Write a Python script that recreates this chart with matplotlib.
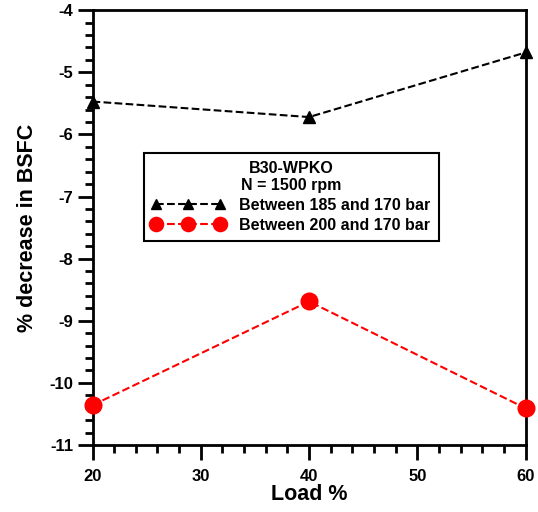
import matplotlib
matplotlib.use('Agg')
import matplotlib.pyplot as plt
from matplotlib.ticker import MultipleLocator

load = [20, 40, 60]
bsfc_185 = [-5.47, -5.72, -4.68]
bsfc_200 = [-10.36, -8.69, -10.41]

plt.rcParams['font.family'] = ['Liberation Sans', 'DejaVu Sans']
plt.rcParams['font.weight'] = 'bold'
plt.rcParams['axes.unicode_minus'] = False

fig = plt.figure(figsize=(5.38, 5.12), dpi=100)
ax = fig.add_axes([0.172, 0.131, 0.805, 0.849])

ax.plot(load, bsfc_185, '--', color='black', marker='^', markersize=9,
        linewidth=1.5, label='Between 185 and 170 bar', clip_on=False, zorder=5)
ax.plot(load, bsfc_200, '--', color='red', marker='o', markersize=12,
        linewidth=1.5, label='Between 200 and 170 bar', clip_on=False, zorder=5)

ax.set_xlim(20, 60)
ax.set_ylim(-11, -4)
ax.xaxis.set_major_locator(MultipleLocator(10))
ax.xaxis.set_minor_locator(MultipleLocator(2))
ax.yaxis.set_major_locator(MultipleLocator(1))
ax.yaxis.set_minor_locator(MultipleLocator(0.2))
ax.tick_params(which='major', direction='out', length=11, width=2, labelsize=12)
ax.tick_params(axis='x', which='major', pad=6)
ax.tick_params(axis='y', which='major', pad=3)
ax.tick_params(which='minor', direction='out', length=6, width=2)
for s in ax.spines.values():
    s.set_linewidth(2)

ax.set_xlabel('Load %', fontsize=15.5, fontweight='bold', labelpad=0)
ax.set_ylabel('% decrease in BSFC', fontsize=15.5, fontweight='bold', labelpad=8)

leg = ax.legend(loc='upper left', bbox_to_anchor=(0.118, 0.672),
                title='B30-WPKO\nN = 1500 rpm', fontsize=11.5,
                title_fontproperties={'weight': 'bold', 'size': 11.5},
                fancybox=False, edgecolor='black', framealpha=1,
                numpoints=3, markerscale=0.85, handlelength=4.6,
                handletextpad=0.9, borderpad=0.5, labelspacing=0.3,
                borderaxespad=0)
leg.get_frame().set_linewidth(1.5)
leg.get_title().set_multialignment('center')

fig.savefig('out.png', dpi=100)
